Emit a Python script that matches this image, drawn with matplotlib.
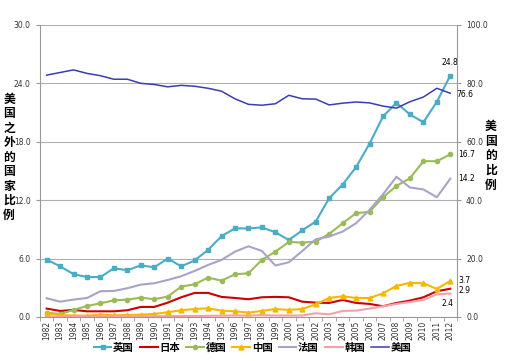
import matplotlib
matplotlib.use("Agg")
import matplotlib.pyplot as plt
import numpy as np

plt.rcParams['font.family'] = ['Noto Sans CJK SC', 'DejaVu Sans']

years = list(range(1982, 2013))

uk = [5.9, 5.2, 4.4, 4.1, 4.1, 5.0, 4.8, 5.3, 5.1, 6.0, 5.2, 5.8, 6.9, 8.3, 9.1, 9.1, 9.2,
      8.7, 7.9, 8.9, 9.8, 12.2, 13.6, 15.4, 17.8, 20.6, 22.0, 20.8, 20.0, 22.1, 24.8]
japan = [0.86, 0.62, 0.72, 0.58, 0.58, 0.58, 0.69, 1.03, 1.03, 1.47, 2.02, 2.47, 2.47, 2.06,
         1.95, 1.82, 2.02, 2.06, 2.02, 1.57, 1.47, 1.44, 1.75, 1.44, 1.34, 1.1, 1.44, 1.68,
         2.02, 2.64, 2.9]
germany = [0.45, 0.3, 0.72, 1.13, 1.4, 1.71, 1.78, 1.99, 1.82, 2.09, 3.12, 3.36, 4.04, 3.73,
           4.38, 4.49, 5.86, 6.71, 7.7, 7.64, 7.74, 8.53, 9.63, 10.66, 10.8, 12.3, 13.46,
           14.25, 16.0, 16.0, 16.7]
china = [0.38, 0.2, 0.14, 0.14, 0.24, 0.17, 0.2, 0.24, 0.31, 0.48, 0.69, 0.82, 0.89, 0.65,
         0.58, 0.45, 0.62, 0.82, 0.72, 0.82, 1.3, 1.95, 2.13, 1.95, 1.95, 2.43, 3.19, 3.5,
         3.46, 2.88, 3.7]
france = [1.92, 1.57, 1.78, 1.95, 2.64, 2.67, 2.95, 3.32, 3.46, 3.8, 4.18, 4.73, 5.34, 5.86,
          6.71, 7.26, 6.78, 5.28, 5.62, 6.78, 7.98, 8.26, 8.77, 9.63, 11.0, 12.6, 14.4,
          13.3, 13.1, 12.3, 14.2]
korea = [0.05, 0.05, 0.05, 0.05, 0.06, 0.06, 0.07, 0.08, 0.08, 0.09, 0.1, 0.1, 0.12, 0.13,
         0.15, 0.15, 0.18, 0.15, 0.15, 0.15, 0.38, 0.27, 0.62, 0.65, 0.86, 1.1, 1.34, 1.54,
         1.75, 2.33, 2.4]
usa = [82.8, 83.7, 84.6, 83.4, 82.6, 81.4, 81.4, 80.0, 79.6, 78.8, 79.3, 79.0, 78.3, 77.3,
       74.7, 72.8, 72.5, 73.0, 75.9, 74.7, 74.6, 72.6, 73.2, 73.6, 73.3, 72.2, 71.5, 73.7,
       75.3, 78.3, 76.6]

left_label = "美国之外的国家比例"
right_label = "美国的比例"

x = np.arange(len(years))

fig = plt.figure(figsize=(5.05, 3.61), dpi=100)
ax = fig.add_axes([0.079, 0.122, 0.826, 0.809])
ax2 = ax.twinx()

ax.set_xlim(-0.5, len(years) - 0.5)
ax.set_ylim(0, 30)
ax2.set_ylim(0, 100)
ax.set_yticks(np.arange(0, 31, 6))
ax.set_yticklabels([f"{v:.1f}" for v in np.arange(0, 31, 6)])
ax2.set_yticks(np.arange(0, 101, 20))
ax2.set_yticklabels([f"{v:.1f}" for v in np.arange(0, 101, 20)])
ax.grid(axis='y', color='#b0b0b0', lw=0.8)
ax.set_axisbelow(True)

ax.set_xticks(x)
ax.set_xticklabels([str(y) for y in years], rotation=90, fontsize=5.5, color='#333333',
                   family='DejaVu Sans')
ax.tick_params(axis='x', length=0, pad=3)
ax.set_xticks(np.arange(-0.5, len(years), 1), minor=True)
ax.tick_params(axis='x', which='minor', length=3, color='#999999')
for a in (ax, ax2):
    a.tick_params(axis='y', labelsize=5.5, labelcolor='#333333', length=3, color='#999999')
    for s in a.spines.values():
        s.set_visible(False)
ax.spines['left'].set_visible(True)
ax.spines['left'].set_color('#999999')
ax.spines['bottom'].set_visible(True)
ax.spines['bottom'].set_color('#999999')
ax2.spines['right'].set_visible(True)
ax2.spines['right'].set_color('#999999')
for lab in ax.get_yticklabels() + ax2.get_yticklabels():
    lab.set_family('DejaVu Sans')

h_uk, = ax.plot(x, uk, color='#4bacc6', lw=1.5, marker='s', ms=3.5, label='英国')
h_jp, = ax.plot(x, japan, color='#cc0000', lw=1.5, label='日本')
h_de, = ax.plot(x, germany, color='#9bbb59', lw=1.5, marker='o', ms=3, label='德国')
h_cn, = ax.plot(x, china, color='#f5b800', lw=1.5, marker='^', ms=3.5, label='中国')
h_fr, = ax.plot(x, france, color='#aaa2c8', lw=1.5, label='法国')
h_kr, = ax.plot(x, korea, color='#f4a0a8', lw=1.5, label='韩国')
h_us, = ax2.plot(x, usa, color='#3c3cb4', lw=1.1, label='美国')

fs = 5.5
last = len(years) - 1
ax.annotate("24.8", (last, uk[-1]), xytext=(0, 6), textcoords='offset points',
            ha='center', va='bottom', fontsize=fs, family='DejaVu Sans')
ax2.annotate("76.6", (last, usa[-1]), xytext=(4, -1), textcoords='offset points',
             ha='left', va='center', fontsize=fs, family='DejaVu Sans')
ax.annotate("16.7", (last, germany[-1]), xytext=(6, 0), textcoords='offset points',
            ha='left', va='center', fontsize=fs, family='DejaVu Sans')
ax.annotate("14.2", (last, france[-1]), xytext=(6, 0), textcoords='offset points',
            ha='left', va='center', fontsize=fs, family='DejaVu Sans')
ax.annotate("3.7", (last, china[-1]), xytext=(6, 0), textcoords='offset points',
            ha='left', va='center', fontsize=fs, family='DejaVu Sans')
ax.annotate("2.9", (last, japan[-1]), xytext=(6, -1), textcoords='offset points',
            ha='left', va='center', fontsize=fs, family='DejaVu Sans')
ax.annotate("2.4", (last, korea[-1]), xytext=(-2, -7), textcoords='offset points',
            ha='center', va='center', fontsize=fs, family='DejaVu Sans')

fig.text(0.018, 0.565, "\n".join(left_label), ha='center', va='center', fontsize=8.5,
         fontweight='bold', linespacing=1.15)
fig.text(0.972, 0.568, "\n".join(right_label), ha='center', va='center', fontsize=8.5,
         fontweight='bold', linespacing=1.15)

fig.legend(handles=[h_uk, h_jp, h_de, h_cn, h_fr, h_kr, h_us], loc='center',
           bbox_to_anchor=(0.5, 0.036), ncol=7, frameon=False,
           prop={'weight': 'bold', 'size': 7.5}, handlelength=1.7, handletextpad=0.15,
           columnspacing=0.6, borderaxespad=0)

fig.savefig("out.png", dpi=100)
